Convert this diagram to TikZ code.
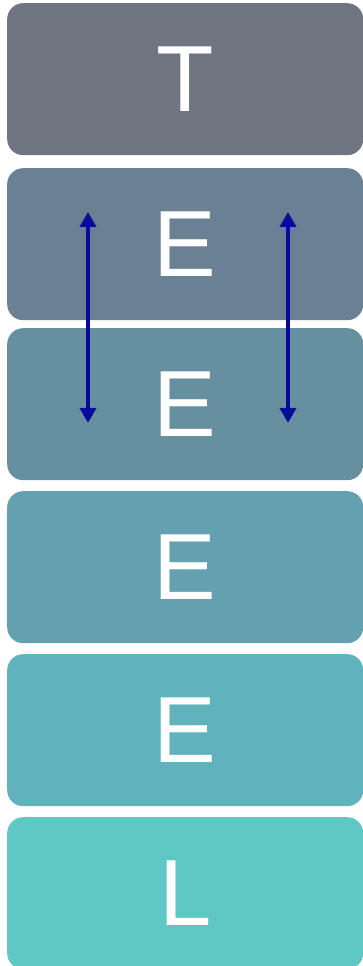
\documentclass[tikz,border=0pt]{standalone}
\usepackage{fontspec}
\setmainfont{Liberation Sans}
\usetikzlibrary{arrows.meta}
\definecolor{c1}{HTML}{6F7681}
\definecolor{c2}{HTML}{6A8093}
\definecolor{c3}{HTML}{668FA0}
\definecolor{c4}{HTML}{63A0B0}
\definecolor{c5}{HTML}{60B3BC}
\definecolor{c6}{HTML}{5FC8C5}
\definecolor{arr}{HTML}{0A0A9A}
\begin{document}
\begin{tikzpicture}[x=1pt,y=1pt,
  layerbox/.style={rounded corners=16pt, inner sep=0pt, minimum width=356pt, minimum height=152pt, text=white, font=\fontsize{94}{94}\selectfont, anchor=north west},
  dblarrow/.style={arr, line width=4.2pt, {Triangle[width=16pt,length=15pt]}-{Triangle[width=16pt,length=15pt]}}]
\useasboundingbox (0,0) rectangle (362,966);
\node[layerbox, fill=c1] (b1) at (7,963) {T};
\node[layerbox, fill=c2] (b2) at (7,798) {E};
\node[layerbox, fill=c3] (b3) at (7,638) {E};
\node[layerbox, fill=c4] (b4) at (7,475) {E};
\node[layerbox, fill=c5] (b5) at (7,312) {E};
\node[layerbox, fill=c6] (b6) at (7,149) {L};
\coordinate (la) at (88,754);
\coordinate (lb) at (88,543);
\coordinate (ra) at (288,754);
\coordinate (rb) at (288,543);
\draw[dblarrow] (la) -- (lb);
\draw[dblarrow] (ra) -- (rb);
\end{tikzpicture}
\end{document}
